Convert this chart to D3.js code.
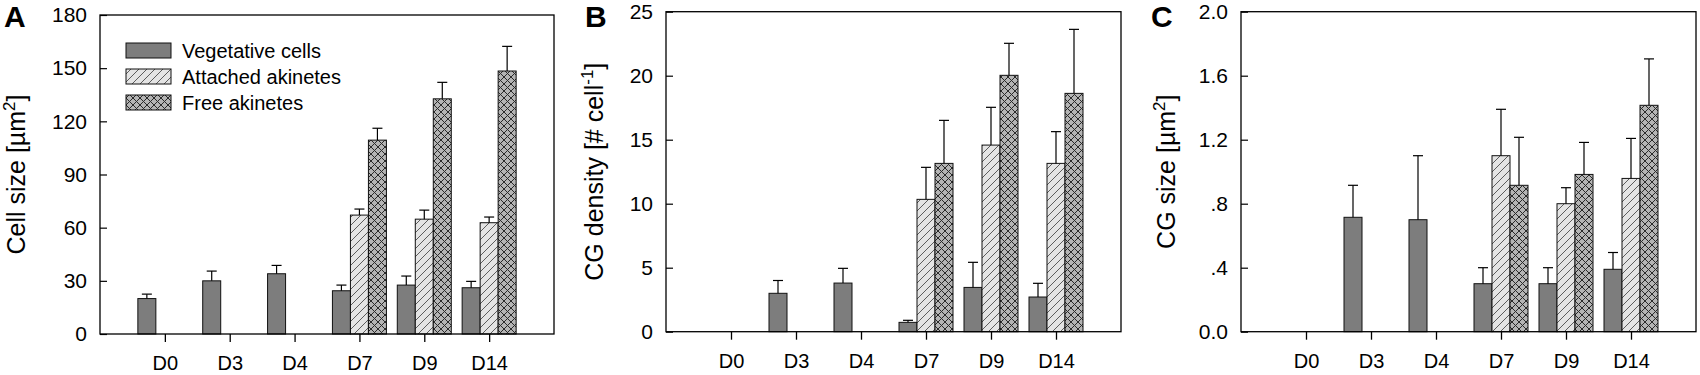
<!DOCTYPE html>
<html>
<head>
<meta charset="utf-8">
<script src="https://cdn.jsdelivr.net/npm/d3@7"></script>
<style>
  html, body { margin: 0; padding: 0; background: #fff; }
  svg { display: block; font-family: Arial, "Liberation Sans", sans-serif; }
</style>
</head>
<body>
<div id="chart"></div>
<script>
// categories and series
const categories = ["D0", "D3", "D4", "D7", "D9", "D14"];
const seriesNames = ["Vegetative cells", "Attached akinetes", "Free akinetes"];

// A: cell size [um2]  (null = no bar)
const cellVeg = [20, 30, 34, 24.4, 27.6, 26.1];
const cellVegSd = [2.5, 5.5, 4.7, 3.2, 5.1, 3.6];
const cellAtt = [null, null, null, 67.1, 64.8, 62.8];
const cellAttSd = [null, null, null, 3.4, 5.1, 3.2];
const cellFree = [null, null, null, 109.4, 132.7, 148.4];
const cellFreeSd = [null, null, null, 6.7, 9.3, 13.9];
const cellTicks = [0, 30, 60, 90, 120, 150, 180];

// B: CG density [# cell-1]
const densVeg = [null, 3.0, 3.8, 0.73, 3.46, 2.71];
const densVegSd = [null, 1.0, 1.15, 0.16, 1.96, 1.07];
const densAtt = [null, null, null, 10.34, 14.58, 13.15];
const densAttSd = [null, null, null, 2.5, 2.95, 2.48];
const densFree = [null, null, null, 13.15, 20.03, 18.62];
const densFreeSd = [null, null, null, 3.36, 2.5, 5.0];
const densTicks = [0, 5, 10, 15, 20, 25];

// C: CG size [um2]
const sizeVeg = [null, 0.715, 0.70, 0.30, 0.30, 0.39];
const sizeVegSd = [null, 0.2, 0.4, 0.1, 0.1, 0.105];
const sizeAtt = [null, null, null, 1.10, 0.80, 0.958];
const sizeAttSd = [null, null, null, 0.29, 0.10, 0.25];
const sizeFree = [null, null, null, 0.915, 0.983, 1.415];
const sizeFreeSd = [null, null, null, 0.30, 0.20, 0.29];
const sizeTicks = [0, 0.4, 0.8, 1.2, 1.6, 2.0];
const sizeTickLabels = ["0.0", ".4", ".8", "1.2", "1.6", "2.0"];

const svg = d3.select("#chart").append("svg")
    .attr("width", 1700)
    .attr("height", 375);

// fill patterns
const defs = svg.append("defs");
const pAtt = defs.append("pattern")
    .attr("id", "hatch").attr("patternUnits", "userSpaceOnUse")
    .attr("width", 8).attr("height", 8);
pAtt.append("rect").attr("width", 8).attr("height", 8).attr("fill", "#e4e4e4");
pAtt.append("path").attr("d", "M-1,9 L9,-1 M-1,1 L1,-1 M7,9 L9,7")
    .attr("stroke", "#3a3a3a").attr("stroke-width", 0.8);

const pFree = defs.append("pattern")
    .attr("id", "cross").attr("patternUnits", "userSpaceOnUse")
    .attr("width", 7).attr("height", 7);
pFree.append("rect").attr("width", 7).attr("height", 7).attr("fill", "#b4b4b4");
pFree.append("path").attr("d", "M0,0 L7,7 M0,7 L7,0")
    .attr("stroke", "#2a2a2a").attr("stroke-width", 1);

const fills = ["#7d7d7d", "url(#hatch)", "url(#cross)"];

const panels = [
  { letter: "A", left: 100, right: 554, top: 15, bottom: 334, letterX: 4, labelX: 25,
    max: 180, ticks: cellTicks, tickLabels: cellTicks.map(String),
    values: [cellVeg, cellAtt, cellFree], sds: [cellVegSd, cellAttSd, cellFreeSd],
    ylabel: ["Cell size [\u00b5m", "2", "]"], legend: true },
  { letter: "B", left: 666, right: 1121, top: 11.7, bottom: 331.7, letterX: 585, labelX: 603,
    max: 25, ticks: densTicks, tickLabels: densTicks.map(String),
    values: [densVeg, densAtt, densFree], sds: [densVegSd, densAttSd, densFreeSd],
    ylabel: ["CG density [# cell", "-1", "]"], legend: false },
  { letter: "C", left: 1241, right: 1696, top: 11.7, bottom: 331.7, letterX: 1151, labelX: 1175,
    max: 2.0, ticks: sizeTicks, tickLabels: sizeTickLabels,
    values: [sizeVeg, sizeAtt, sizeFree], sds: [sizeVegSd, sizeAttSd, sizeFreeSd],
    ylabel: ["CG size [\u00b5m", "2", "]"], legend: false }
];

panels.forEach(function (p) {
  var x = d3.scaleLinear().domain([0, 7]).range([p.left, p.right]);
  var y = d3.scaleLinear().domain([0, p.max]).range([p.bottom, p.top]);
  var sub = d3.scaleBand().domain([0, 1, 2]).range([-27, 27]);
  var g = svg.append("g");

  // bars
  p.values.forEach(function (vals, s) {
    var rows = categories.map(function (c, i) {
      return { i: i, v: vals[i], sd: p.sds[s][i] };
    }).filter(function (d) { return d.v != null; });

    g.append("g").selectAll("rect")
      .data(rows).enter().append("rect")
      .attr("x", function (d) { return x(d.i + 1) + sub(s); })
      .attr("y", function (d) { return y(d.v); })
      .attr("width", sub.bandwidth())
      .attr("height", function (d) { return y(0) - y(d.v); })
      .attr("fill", fills[s])
      .attr("stroke", "#111")
      .attr("stroke-width", 1);

    // upper error bars
    var eb = g.append("g").attr("stroke", "#000").attr("stroke-width", 1.2);
    rows.forEach(function (d) {
      var cx = x(d.i + 1) + sub(s) + sub.bandwidth() / 2;
      eb.append("line").attr("x1", cx).attr("x2", cx)
        .attr("y1", y(d.v)).attr("y2", y(d.v + d.sd));
      eb.append("line").attr("x1", cx - 5).attr("x2", cx + 5)
        .attr("y1", y(d.v + d.sd)).attr("y2", y(d.v + d.sd));
    });
  });

  // frame
  g.append("rect")
    .attr("x", p.left).attr("y", p.top)
    .attr("width", p.right - p.left).attr("height", p.bottom - p.top)
    .attr("fill", "none").attr("stroke", "#000").attr("stroke-width", 1.3);

  // x axis
  var xa = g.append("g")
    .attr("transform", "translate(0," + p.bottom + ")")
    .call(d3.axisBottom(x).tickValues([1, 2, 3, 4, 5, 6])
      .tickFormat(function (d) { return categories[d - 1]; })
      .tickSize(8).tickPadding(14));
  xa.select(".domain").remove();
  xa.selectAll("line").attr("stroke-width", 1.3);
  xa.selectAll("text").attr("font-size", 20).attr("fill", "#000")
    .style("font-family", "Arial, 'Liberation Sans', sans-serif");

  // y axis
  var ya = g.append("g")
    .attr("transform", "translate(" + p.left + ",0)")
    .call(d3.axisLeft(y).tickValues(p.ticks)
      .tickFormat(function (d, i) { return p.tickLabels[i]; })
      .tickSizeInner(-7).tickSizeOuter(0).tickPadding(13));
  ya.select(".domain").remove();
  ya.selectAll("line").attr("stroke-width", 1.2);
  ya.selectAll("text").attr("font-size", 21).attr("fill", "#000")
    .style("font-family", "Arial, 'Liberation Sans', sans-serif");

  // y label
  var cy = (p.top + p.bottom) / 2;
  var yl = g.append("text")
    .attr("transform", "translate(" + p.labelX + "," + cy + ") rotate(-90)")
    .attr("text-anchor", "middle")
    .attr("font-size", 25);
  yl.append("tspan").text(p.ylabel[0]);
  yl.append("tspan").attr("font-size", 17).attr("dy", -10).text(p.ylabel[1]);
  yl.append("tspan").attr("dy", 10).text(p.ylabel[2]);

  // panel letter
  g.append("text")
    .attr("x", p.letterX).attr("y", 27)
    .attr("font-size", 30).attr("font-weight", "bold")
    .text(p.letter);

  // legend
  if (p.legend) {
    var lg = g.append("g");
    seriesNames.forEach(function (name, s) {
      var ty = 43 + s * 26;
      lg.append("rect").attr("x", 126).attr("y", ty)
        .attr("width", 45).attr("height", 15)
        .attr("fill", fills[s]).attr("stroke", "#111").attr("stroke-width", 1);
      lg.append("text").attr("x", 182).attr("y", ty + 14.5)
        .attr("font-size", 20).text(name);
    });
  }
});
</script>
</body>
</html>
